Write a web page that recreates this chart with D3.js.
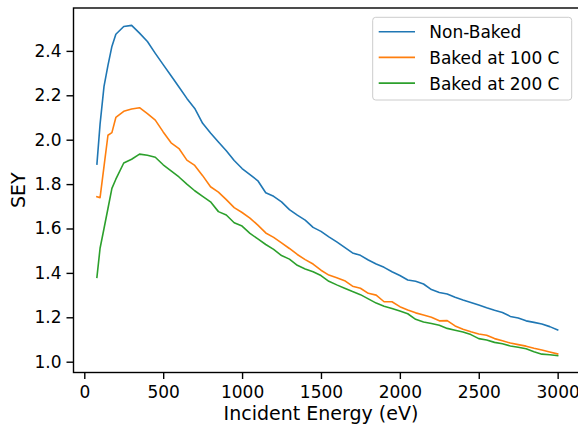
<!DOCTYPE html>
<html>
<head>
<meta charset="utf-8">
<script src="https://cdn.jsdelivr.net/npm/d3@7"></script>
<style>
    body { margin: 0; background: #fff; }
    svg { display: block; font-family: "DejaVu Sans", sans-serif; }
</style>
</head>
<body>
<div id="chart"></div>
<script>
// incident energy (eV)
const energy = [80, 100, 125, 150, 175, 200, 250, 300, 350, 400, 450, 500, 550, 600, 650, 700, 750, 800, 850, 900,
    950, 1000, 1050, 1100, 1150, 1200, 1250, 1300, 1350, 1400, 1450, 1500, 1550, 1600, 1650, 1700, 1750, 1800,
    1850, 1900, 1950, 2000, 2050, 2100, 2150, 2200, 2250, 2300, 2350, 2400, 2450, 2500, 2550, 2600, 2650, 2700,
    2750, 2800, 2850, 2900, 2950, 3000];

const nonBaked = [1.89, 2.07, 2.24, 2.335, 2.42, 2.475, 2.51, 2.515, 2.48, 2.442, 2.389, 2.338, 2.288, 2.237, 2.186,
    2.141, 2.074, 2.03, 1.99, 1.95, 1.906, 1.87, 1.843, 1.815, 1.761, 1.745, 1.72, 1.685, 1.66, 1.638, 1.605,
    1.587, 1.562, 1.54, 1.515, 1.49, 1.479, 1.458, 1.44, 1.425, 1.405, 1.388, 1.368, 1.362, 1.35, 1.325, 1.312,
    1.305, 1.29, 1.278, 1.267, 1.255, 1.243, 1.232, 1.222, 1.204, 1.197, 1.184, 1.177, 1.17, 1.158, 1.143];

const baked100 = [1.743, 1.739, 1.88, 2.02, 2.032, 2.1, 2.128, 2.138, 2.144, 2.117, 2.088, 2.035, 1.986, 1.96, 1.908,
    1.884, 1.838, 1.788, 1.764, 1.73, 1.694, 1.672, 1.647, 1.615, 1.58, 1.56, 1.535, 1.51, 1.483, 1.46, 1.44,
    1.412, 1.39, 1.378, 1.365, 1.34, 1.331, 1.308, 1.3, 1.27, 1.27, 1.248, 1.233, 1.22, 1.21, 1.2, 1.184, 1.185,
    1.161, 1.146, 1.135, 1.125, 1.119, 1.104, 1.094, 1.084, 1.077, 1.07, 1.061, 1.053, 1.044, 1.035];

const baked200 = [1.38, 1.511, 1.6, 1.69, 1.781, 1.822, 1.895, 1.912, 1.935, 1.93, 1.921, 1.887, 1.86, 1.832, 1.8,
    1.77, 1.745, 1.72, 1.676, 1.661, 1.626, 1.611, 1.578, 1.553, 1.528, 1.506, 1.478, 1.462, 1.434, 1.418, 1.405,
    1.388, 1.362, 1.346, 1.331, 1.316, 1.302, 1.283, 1.264, 1.25, 1.24, 1.228, 1.216, 1.191, 1.179, 1.172, 1.164,
    1.15, 1.142, 1.134, 1.122, 1.104, 1.098, 1.087, 1.081, 1.071, 1.065, 1.058, 1.045, 1.034, 1.031, 1.027];

const seriesNames = ["Non-Baked", "Baked at 100 C", "Baked at 200 C"];
const seriesColors = ["#1f77b4", "#ff7f0e", "#2ca02c"];

const xTicks = [0, 500, 1000, 1500, 2000, 2500, 3000];
const yTicks = [1.0, 1.2, 1.4, 1.6, 1.8, 2.0, 2.2, 2.4];

const width = 578, height = 426;
const plot = {left: 73.5, right: 581, top: 8, bottom: 372.5};

const svg = d3.select("#chart").append("svg")
    .attr("width", width)
    .attr("height", height);

const x = d3.scaleLinear()
    .domain([-68.4, 3148])
    .range([plot.left, plot.right]);

const y = d3.scaleLinear()
    .domain([0.9536, 2.5932])
    .range([372, 8]);

// lines
const series = [nonBaked, baked100, baked200];
const line = d3.line()
    .x((d, i) => x(energy[i]))
    .y(d => y(d));

svg.append("g")
    .selectAll("path")
    .data(series)
    .enter().append("path")
    .attr("d", line)
    .attr("fill", "none")
    .attr("stroke", (d, i) => seriesColors[i])
    .attr("stroke-width", 1.6)
    .attr("stroke-linejoin", "round")
    .attr("stroke-linecap", "square");

// axes
const xAxis = d3.axisBottom(x)
    .tickValues(xTicks)
    .tickFormat(d3.format("d"))
    .tickSize(6.5)
    .tickPadding(7);

const yAxis = d3.axisLeft(y)
    .tickValues(yTicks)
    .tickFormat(d3.format(".1f"))
    .tickSize(7)
    .tickPadding(5);

const gx = svg.append("g")
    .attr("transform", `translate(0, ${plot.bottom})`)
    .call(xAxis);

const gy = svg.append("g")
    .attr("transform", `translate(${plot.left}, 0)`)
    .call(yAxis);

[gx, gy].forEach(g => {
    g.select(".domain").remove();
    g.selectAll(".tick line").attr("stroke", "#000").attr("stroke-width", 1.4);
    g.selectAll(".tick text")
        .attr("fill", "#000")
        .attr("font-size", 17)
        .attr("font-family", "DejaVu Sans");
});

// spines
svg.append("rect")
    .attr("x", plot.left)
    .attr("y", plot.top)
    .attr("width", plot.right - plot.left)
    .attr("height", plot.bottom - plot.top)
    .attr("fill", "none")
    .attr("stroke", "#000")
    .attr("stroke-width", 1.4);

// axis labels
svg.append("text")
    .attr("x", x(1500))
    .attr("y", 420)
    .attr("text-anchor", "middle")
    .attr("font-size", 19)
    .attr("fill", "#000")
    .text("Incident Energy (eV)");

svg.append("text")
    .attr("transform", `translate(25, ${(plot.top + plot.bottom) / 2}) rotate(-90)`)
    .attr("text-anchor", "middle")
    .attr("font-size", 19)
    .attr("fill", "#000")
    .text("SEY");

// legend
const legend = svg.append("g")
    .attr("class", "legend")
    .attr("transform", "translate(372.7, 17.3)");

legend.append("rect")
    .attr("width", 199)
    .attr("height", 82.7)
    .attr("rx", 3)
    .attr("fill", "#fff")
    .attr("fill-opacity", 0.8)
    .attr("stroke", "#ccc")
    .attr("stroke-width", 1);

const rows = legend.selectAll(".row")
    .data(seriesNames)
    .enter().append("g")
    .attr("class", "row")
    .attr("transform", (d, i) => `translate(0, ${14.4 + i * 25.7})`);

rows.append("line")
    .attr("x1", 6)
    .attr("x2", 42.3)
    .attr("stroke", (d, i) => seriesColors[i])
    .attr("stroke-width", 1.6);

rows.append("text")
    .attr("x", 56.6)
    .attr("y", 6.6)
    .attr("font-size", 17)
    .attr("fill", "#000")
    .text(d => d);
</script>
</body>
</html>
